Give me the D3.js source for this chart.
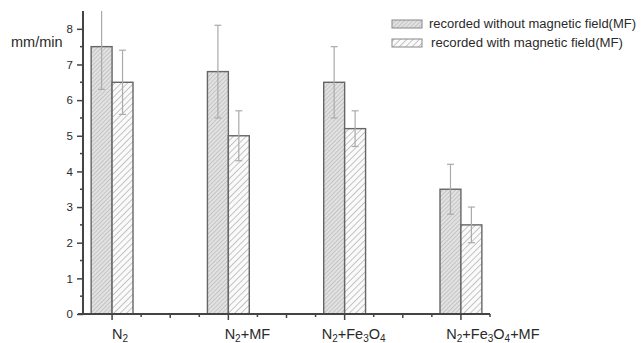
<!DOCTYPE html>
<html><head><meta charset="utf-8">
<script src="https://cdn.jsdelivr.net/npm/d3@7"></script>
<style>body{margin:0;background:#fff}svg{display:block}text{font-family:"Liberation Sans",Arial,sans-serif;fill:#2a2a2a}</style>
</head><body>
<svg id="c" width="642" height="343"></svg>
<script>
const categories = [1, 2, 3, 4];
const categoryLabels = [["N","2"], ["N","2","+MF"], ["N","2","+Fe","3","O","4"], ["N","2","+Fe","3","O","4","+MF"]];
const withoutMF = [7.5, 6.8, 6.5, 3.5];
const withoutMFErr = [1.2, 1.3, 1.0, 0.7];
const withMF = [6.5, 5.0, 5.2, 2.5];
const withMFErr = [0.9, 0.7, 0.5, 0.5];
const seriesNames = ["recorded without magnetic field(MF)", "recorded with magnetic field(MF)"];
const yTicks = [0,1,2,3,4,5,6,7,8];

const svg = d3.select("#c");
const L=83, R=490, T=11, B=314;
const x = d3.scaleLinear().domain([0.75,4.25]).range([L,R]);
const y = d3.scaleLinear().domain([0,8.5]).range([B,T]);
const bw = x(1.18)-x(1);
const labelShift = [8, 19, 9, 32]; // label placement offset (px) as in the original figure

const defs = svg.append("defs");
const p1 = defs.append("pattern").attr("id","h1").attr("patternUnits","userSpaceOnUse")
  .attr("width",3).attr("height",3).attr("patternTransform","rotate(45)");
p1.append("rect").attr("width",3).attr("height",3).attr("fill","#e2e2e2");
p1.append("line").attr("x1",0).attr("y1",0).attr("x2",0).attr("y2",3).attr("stroke","#b0b0b0").attr("stroke-width",1.2);
const p2 = defs.append("pattern").attr("id","h2").attr("patternUnits","userSpaceOnUse")
  .attr("width",4.5).attr("height",4.5).attr("patternTransform","rotate(45)");
p2.append("rect").attr("width",4.5).attr("height",4.5).attr("fill","#fafafa");
p2.append("line").attr("x1",0).attr("y1",0).attr("x2",0).attr("y2",4.5).attr("stroke","#a8a8a8").attr("stroke-width",1.3);
defs.append("clipPath").attr("id","clip").append("rect").attr("x",L).attr("y",T).attr("width",R-L).attr("height",B-T);

const g = svg.append("g").attr("clip-path","url(#clip)");
const series = [
  {vals: withoutMF, err: withoutMFErr, off: -bw, fill:"url(#h1)"},
  {vals: withMF, err: withMFErr, off: 0, fill:"url(#h2)"}
];
series.forEach(s=>{
  g.selectAll(null).data(categories).enter().append("rect")
    .attr("x",(d)=>x(d)+s.off).attr("width",bw)
    .attr("y",(d,i)=>y(s.vals[i])).attr("height",(d,i)=>B-y(s.vals[i]))
    .attr("fill",s.fill).attr("stroke","#666").attr("stroke-width",1.4);
});
series.forEach(s=>{
  categories.forEach((c,i)=>{
    const cx = x(c)+s.off+bw/2;
    const hi = s.vals[i]+s.err[i], lo = s.vals[i]-s.err[i];
    g.append("line").attr("x1",cx).attr("x2",cx).attr("y1",y(hi)).attr("y2",y(lo)).attr("stroke","#aaa").attr("stroke-width",1.2);
    [hi,lo].forEach(v=>g.append("line").attr("x1",cx-3.5).attr("x2",cx+3.5).attr("y1",y(v)).attr("y2",y(v)).attr("stroke","#aaa").attr("stroke-width",1.2));
  });
});

// Axes
const ax = svg.append("g");
ax.append("line").attr("x1",L).attr("x2",L).attr("y1",T).attr("y2",B).attr("stroke","#444").attr("stroke-width",2);
ax.append("line").attr("x1",L-5).attr("x2",R).attr("y1",B).attr("y2",B).attr("stroke","#444").attr("stroke-width",2);
const yAxis = d3.axisLeft(y).tickValues(yTicks).tickSize(6).tickPadding(4);
const ya = svg.append("g").attr("transform",`translate(${L},0)`).call(yAxis);
ya.select(".domain").remove();
ya.selectAll("line").attr("stroke","#444").attr("stroke-width",1.5);
ya.selectAll("text").attr("font-size",11.5).style("fill","#2a2a2a").attr("font-family","Liberation Sans, Arial, sans-serif");
d3.range(0.5,8.5,1).forEach(v=>ax.append("line").attr("x1",L-3).attr("x2",L).attr("y1",y(v)).attr("y2",y(v)).attr("stroke","#444").attr("stroke-width",1.5));
d3.range(1,4.01,0.5).forEach(v=>ax.append("line").attr("x1",x(v)).attr("x2",x(v)).attr("y1",B).attr("y2",B+(Number.isInteger(v)?6:4)).attr("stroke","#444").attr("stroke-width",1.5));
d3.range(1.25,4.3,0.5).forEach(v=>ax.append("line").attr("x1",x(v)).attr("x2",x(v)).attr("y1",B).attr("y2",B+3).attr("stroke","#444").attr("stroke-width",1.5));

// Category labels with subscripts
categories.forEach((c,i)=>{
  const t = svg.append("text").attr("x",x(c)+labelShift[i]).attr("y",339).attr("text-anchor","middle").attr("font-size",14.5);
  const parts = categoryLabels[i];
  parts.forEach((p,k)=>{
    const sub = /^\d$/.test(p);
    t.append("tspan").text(p).attr("font-size",sub?10:14.5).attr("dy", sub? 3 : (k>0 && /^\d$/.test(parts[k-1]) ? -3 : 0));
  });
});

svg.append("text").attr("x",11).attr("y",47).attr("font-size",14.5).text("mm/min");

// Legend
const lg = svg.append("g");
const legendLen = [207, 192];
seriesNames.forEach((n,i)=>{
  const yy = 20+i*19;
  lg.append("rect").attr("x",392).attr("y",yy).attr("width",30).attr("height",8).attr("fill",i?"url(#h2)":"url(#h1)").attr("stroke","#888").attr("stroke-width",1);
  lg.append("text").attr("x",i?431:429).attr("y",yy+8).attr("font-size",12.5)
    .attr("textLength",legendLen[i]).attr("lengthAdjust","spacingAndGlyphs").text(n);
});
</script>
</body></html>
